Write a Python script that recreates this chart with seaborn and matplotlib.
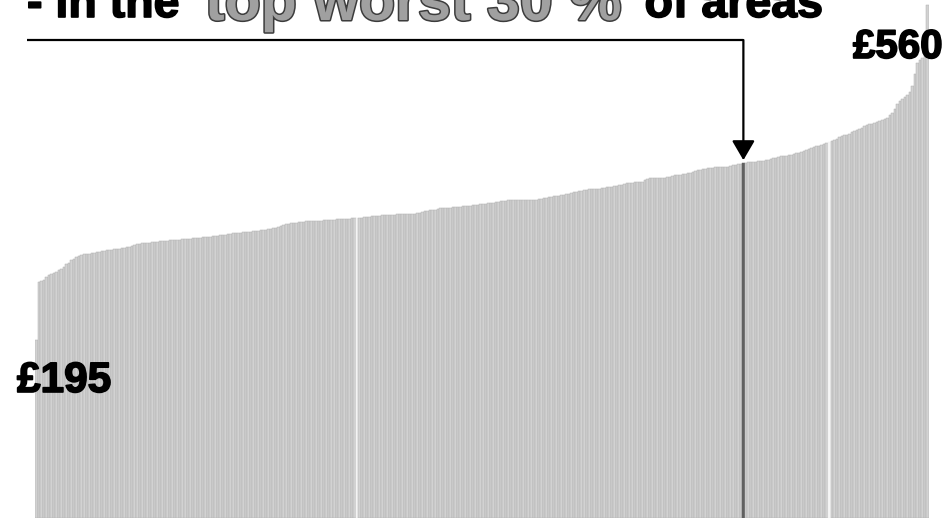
import numpy as np
import matplotlib
matplotlib.use("Agg")
import matplotlib.pyplot as plt
import matplotlib.patheffects as pe
import seaborn as sns

# ---- data: cost per area, sorted ascending ----
values = [
    195, 258, 259, 260, 263, 265, 267, 268, 269, 271,
    272, 274, 277, 279, 282, 283, 285, 286, 287, 288,
    288, 289, 290, 290, 291, 291, 292, 292, 293, 293,
    293, 294, 294, 294, 295, 295, 296, 296, 297, 298,
    299, 299, 300, 300, 301, 301, 302, 302, 302, 303,
    303, 303, 303, 304, 304, 304, 304, 304, 305, 305,
    305, 305, 306, 306, 306, 306, 307, 307, 307, 307,
    308, 308, 308, 309, 309, 309, 310, 310, 311, 311,
    311, 311, 312, 312, 313, 313, 314, 314, 314, 315,
    315, 315, 316, 316, 317, 317, 318, 319, 320, 321,
    321, 322, 322, 322, 323, 323, 323, 324, 324, 324,
    325, 325, 325, 325, 326, 326, 326, 326, 326, 327,
    327, 327, 327, 327, 327, 328, 328, 328, 328, 328,
    329, 329, 329, 330, 330, 330, 330, 331, 331, 331,
    331, 331, 331, 332, 332, 332, 332, 332, 332, 332,
    332, 333, 333, 334, 335, 335, 336, 336, 337, 338,
    339, 339, 339, 339, 339, 340, 340, 340, 340, 341,
    341, 341, 341, 342, 342, 342, 343, 343, 343, 344,
    344, 344, 345, 345, 346, 346, 346, 347, 347, 347,
    348, 348, 348, 348, 348, 348, 348, 348, 348, 349,
    349, 350, 350, 351, 351, 352, 352, 352, 353, 353,
    354, 354, 355, 356, 356, 357, 357, 358, 358, 359,
    359, 360, 360, 360, 361, 361, 362, 362, 362, 363,
    363, 364, 364, 365, 366, 366, 366, 367, 367, 367,
    367, 369, 370, 371, 371, 371, 371, 372, 372, 372,
    373, 373, 374, 375, 375, 375, 376, 376, 377, 377,
    378, 379, 380, 380, 381, 381, 382, 382, 382, 383,
    383, 383, 384, 384, 384, 385, 386, 386, 387, 387,
    388, 388, 389, 389, 389, 389, 390, 390, 390, 391,
    391, 392, 393, 393, 394, 395, 395, 396, 397, 397,
    398, 399, 399, 400, 401, 402, 403, 404, 405, 406,
    407, 408, 409, 410, 411, 412, 413, 414, 416, 417,
    418, 419, 420, 422, 423, 424, 425, 426, 428, 429,
    430, 431, 432, 433, 434, 435, 436, 437, 440, 443,
    447, 452, 456, 458, 460, 462, 466, 472, 485, 497,
    500, 503, 508, 560,
]
areas = list(range(len(values)))
marked_area = 280          # the area the arrow points at (30 % threshold)
blank_areas = [127, 314]   # bars that show as white gaps
title_parts = ["- in the ", "top worst 30 %", " of areas"]
min_label = "£195"
max_label = "£560"

# ---- figure ----
sns.set_theme(style="white")
plt.rcParams["font.family"] = ["Liberation Sans", "DejaVu Sans"]

W, H = 950, 518
fig = plt.figure(figsize=(W / 100, H / 100), dpi=100)
ax = fig.add_axes([35 / W, 0, (929 - 35) / W, 1])

sns.barplot(x=areas, y=values, color="#d2d2d2", saturation=1, width=1.0,
            edgecolor="#b0b0b0", linewidth=0.35, ax=ax)
for i in blank_areas:
    ax.patches[i].set_facecolor("#f6f6f6")
    ax.patches[i].set_edgecolor("#f0f0f0")
ax.patches[marked_area].set_facecolor("#606060")
ax.patches[marked_area].set_edgecolor("#606060")

ax.set_xlim(-0.5, len(values) - 0.5)
ax.set_ylim(0, 566)
ax.axis("off")

# ---- arrow from the title down to the marked bar ----
def px_to_data(px, py):
    inv = ax.transData.inverted()
    return inv.transform((px, H - py))

fig.canvas.draw()
x0, y_line = px_to_data(27, 40)
ax.plot([x0, marked_area], [y_line, y_line], color="black", lw=1.6,
        clip_on=False, solid_capstyle="butt", zorder=5)
ax.annotate("", xy=(marked_area, values[marked_area] + 3),
            xytext=(marked_area, y_line),
            arrowprops=dict(arrowstyle="-|>,head_length=12,head_width=7",
                            mutation_scale=1, color="black", lw=1.6,
                            shrinkA=0, shrinkB=0),
            annotation_clip=False, zorder=6)

# ---- title in three pieces ----
heavy = [pe.Stroke(linewidth=1.2, foreground="black"), pe.Normal()]
fs_black = 33.5
fs_grey = 42.5
fig.text(27 / W, 1 - 17 / H, title_parts[0], fontsize=fs_black,
         fontweight="bold", color="black", va="baseline", ha="left",
         path_effects=heavy)
fig.text(205 / W, 1 - 20 / H, title_parts[1], fontsize=fs_grey,
         fontweight="bold", color="#a0a0a0", va="baseline", ha="left",
         path_effects=[pe.Stroke(linewidth=2.2, foreground="#3c3c3c"),
                       pe.Normal()])
fig.text(823 / W, 1 - 17 / H, title_parts[2], fontsize=fs_black,
         fontweight="bold", color="black", va="baseline", ha="right",
         path_effects=heavy)

# ---- min / max labels ----
fig.text(17 / W, 1 - 392 / H, min_label, fontsize=30.5, fontweight="bold",
         color="black", va="baseline", ha="left", zorder=10,
         path_effects=heavy)
fig.text(853 / W, 1 - 58 / H, max_label, fontsize=29, fontweight="bold",
         color="black", va="baseline", ha="left", zorder=10,
         path_effects=heavy)

fig.savefig("out.png", dpi=100)
